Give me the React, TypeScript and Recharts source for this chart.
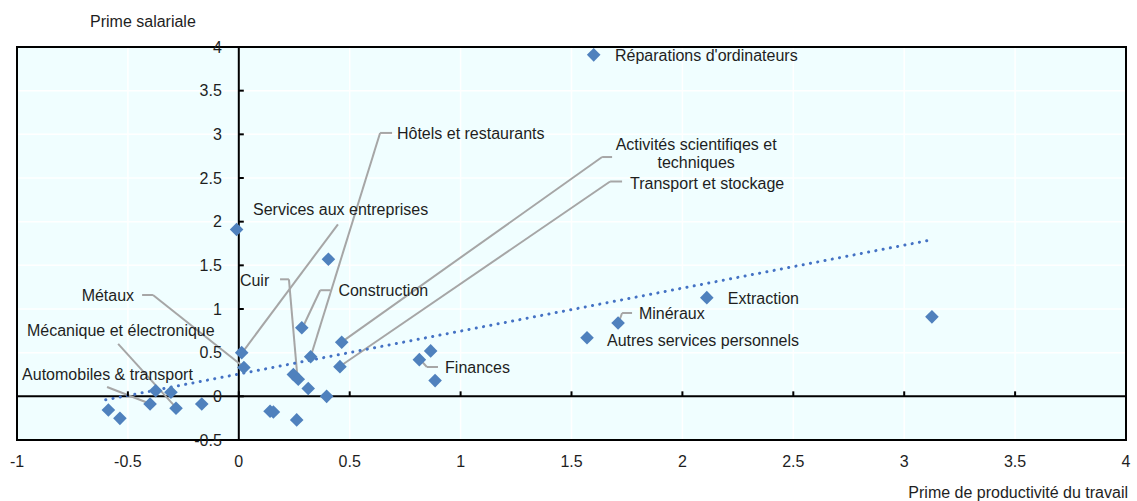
import React from 'react';
import {
  ComposedChart,
  Scatter,
  XAxis,
  YAxis,
  CartesianGrid,
  ReferenceLine,
  ReferenceDot,
  ReferenceArea,
} from 'recharts';

// Labour productivity premium (x) and wage premium (y) by sector
const productivity = [
  1.6, -0.01, 0.404, 0.284, 0.324, 0.464, 0.456, 0.013, 0.023, 0.246, 0.268, 0.313, 0.396,
  0.814, 0.865, 0.885, 1.57, 1.71, 2.11, 3.125, -0.588, -0.536, -0.4, -0.375, -0.306,
  -0.283, -0.167, 0.141, 0.156, 0.261,
];
const wagePremium = [
  3.91, 1.91, 1.57, 0.786, 0.454, 0.62, 0.34, 0.5, 0.33, 0.25, 0.195, 0.09, 0.0,
  0.42, 0.52, 0.18, 0.67, 0.84, 1.13, 0.91, -0.157, -0.252, -0.088, 0.064, 0.046,
  -0.137, -0.088, -0.17, -0.18, -0.27,
];

const xTicks = [-1, -0.5, 0, 0.5, 1, 1.5, 2, 2.5, 3, 3.5, 4];
const yTicks = [-0.5, 0, 0.5, 1, 1.5, 2, 2.5, 3, 3.5, 4];
const xTickLabels = ['-1', '-0.5', '0', '0.5', '1', '1.5', '2', '2.5', '3', '3.5', '4'];
const yTickLabels = ['-0.5', '0', '0.5', '1', '1.5', '2', '2.5', '3', '3.5', '4'];

// Trend line end points
const trendX = [-0.6, 3.12];
const trendY = [-0.04, 1.79];

// Annotation labels (anchor in data coordinates)
const labelTexts = [
  ["Réparations d'ordinateurs"],
  ['Hôtels et restaurants'],
  ['Activités scientifiqes et', 'techniques'],
  ['Transport et stockage'],
  ['Services aux entreprises'],
  ['Construction'],
  ['Cuir'],
  ['Métaux'],
  ['Mécanique et électronique'],
  ['Automobiles & transport'],
  ['Finances'],
  ['Minéraux'],
  ['Extraction'],
  ['Autres services personnels'],
];
const labelX = [1.696, 0.713, 2.062, 1.764, 0.064, 0.449, 0.005, -0.472, -0.955, -0.977, 0.93, 1.804, 2.205, 1.66];
const labelY = [3.91, 3.016, 2.89, 2.443, 2.14, 1.215, 1.33, 1.16, 0.76, 0.255, 0.336, 0.954, 1.126, 0.645];
const labelAnchor = ['start', 'start', 'middle', 'start', 'start', 'start', 'start', 'end', 'start', 'start', 'start', 'start', 'start', 'start'];

// Leader lines (polylines in data coordinates)
const leaders: [number, number][][] = [
  [[0.691, 3.016], [0.637, 3.016], [0.326, 0.47]],
  [[1.683, 2.74], [1.638, 2.74], [0.468, 0.63]],
  [[1.728, 2.46], [1.674, 2.46], [0.46, 0.35]],
  [[0.447, 1.97], [0.018, 0.51]],
  [[0.413, 1.215], [0.367, 1.215], [0.29, 0.8]],
  [[0.186, 1.34], [0.226, 1.34], [0.265, 0.2]],
  [[-0.436, 1.16], [-0.387, 1.16], [0.025, 0.33]],
  [[-0.544, 0.6], [-0.283, -0.13]],
  [[-0.594, 0.107], [-0.4, -0.085]],
  [[0.898, 0.336], [0.848, 0.336], [0.818, 0.42]],
  [[1.773, 0.954], [1.728, 0.954], [1.712, 0.84]],
];

const FONT = 'Liberation Sans, Arial, sans-serif';
const TEXT = '#1e1e1e';
const POINT = '#4F81BD';

const points = productivity.map((x, i) => ({ x, y: wagePremium[i] }));

const Diamond = (props: any) => {
  const { cx, cy } = props;
  if (cx == null || cy == null) return <g />;
  const s = 6.8;
  return (
    <polygon
      points={`${cx},${cy - s} ${cx + s},${cy} ${cx},${cy + s} ${cx - s},${cy}`}
      fill={POINT}
    />
  );
};

export default function App() {
  return (
    <div style={{ position: 'absolute', left: 0, top: 0, width: 1137, height: 501, background: '#fff' }}>
      <ComposedChart
        width={1137}
        height={501}
        margin={{ top: 47, right: 11, left: 17, bottom: 0 }}
      >
        <CartesianGrid
          fill="#F0FEFF"
          stroke="#FFFFFF"
          strokeWidth={1.5}
          horizontalValues={yTicks}
          verticalValues={xTicks}
        />
        <XAxis
          type="number"
          dataKey="x"
          domain={[-1, 4]}
          ticks={xTicks}
          allowDataOverflow
          height={61}
          axisLine={false}
          tickLine={false}
          tickSize={6}
          tickMargin={10}
          tickFormatter={(v: number) => xTickLabels[xTicks.indexOf(v)] ?? String(v)}
          tick={{ fontFamily: FONT, fontSize: 16, fill: TEXT }}
        />
        <YAxis type="number" dataKey="y" domain={[-0.5, 4]} ticks={yTicks} allowDataOverflow hide />

        <ReferenceLine x={0} stroke="#000" strokeWidth={2} />
        <ReferenceLine y={0} stroke="#000" strokeWidth={2} />

        {yTicks.map((v, i) => (
          <ReferenceDot
            key={'yt' + i}
            x={0}
            y={v}
            r={0}
            shape={(p: any) => (
              <g>
                <line x1={p.cx} x2={p.cx + 5} y1={p.cy} y2={p.cy} stroke="#000" strokeWidth={2} />
                <text
                  x={p.cx - 17}
                  y={p.cy}
                  textAnchor="end"
                  dominantBaseline="central"
                  fontFamily={FONT}
                  fontSize={16}
                  fill={TEXT}
                >
                  {yTickLabels[i]}
                </text>
              </g>
            )}
          />
        ))}
        {xTicks.map((v, i) => (
          <ReferenceDot
            key={'xt' + i}
            x={v}
            y={0}
            r={0}
            shape={(p: any) => (
              <line x1={p.cx} x2={p.cx} y1={p.cy} y2={p.cy - 5} stroke="#000" strokeWidth={2} />
            )}
          />
        ))}

        {leaders.flatMap((poly, li) =>
          poly.slice(1).map((pt, si) => (
            <ReferenceLine
              key={`ld${li}-${si}`}
              segment={[
                { x: poly[si][0], y: poly[si][1] },
                { x: pt[0], y: pt[1] },
              ]}
              stroke="#A6A6A6"
              strokeWidth={2}
            />
          ))
        )}

        <ReferenceLine
          segment={[
            { x: trendX[0], y: trendY[0] },
            { x: trendX[1], y: trendY[1] },
          ]}
          stroke="#4472C4"
          strokeWidth={3}
          strokeDasharray="0.1 7.3"
          strokeLinecap="round"
        />

        <Scatter data={points} dataKey="y" shape={Diamond} isAnimationActive={false} />

        {labelTexts.map((lines, i) => (
          <ReferenceDot
            key={'lb' + i}
            x={labelX[i]}
            y={labelY[i]}
            r={0}
            shape={(p: any) => (
              <text
                x={p.cx}
                y={p.cy}
                textAnchor={labelAnchor[i] as any}
                dominantBaseline="central"
                fontFamily={FONT}
                fontSize={16}
                fill={TEXT}
              >
                {lines.map((ln, k) => (
                  <tspan key={k} x={p.cx} dy={k === 0 ? 0 : 18}>
                    {ln}
                  </tspan>
                ))}
              </text>
            )}
          />
        ))}

        <ReferenceArea x1={-1} x2={4} y1={-0.5} y2={4} fill="none" stroke="#000" strokeWidth={2} />
      </ComposedChart>
      <div
        style={{
          position: 'absolute',
          left: 90,
          top: 12,
          fontFamily: FONT,
          fontSize: 16,
          color: TEXT,
          lineHeight: '20px',
          whiteSpace: 'nowrap',
        }}
      >
        Prime salariale
      </div>
      <div
        style={{
          position: 'absolute',
          right: 9,
          top: 483,
          fontFamily: FONT,
          fontSize: 16,
          color: TEXT,
          lineHeight: '20px',
          whiteSpace: 'nowrap',
        }}
      >
        Prime de productivité du travail
      </div>
    </div>
  );
}
